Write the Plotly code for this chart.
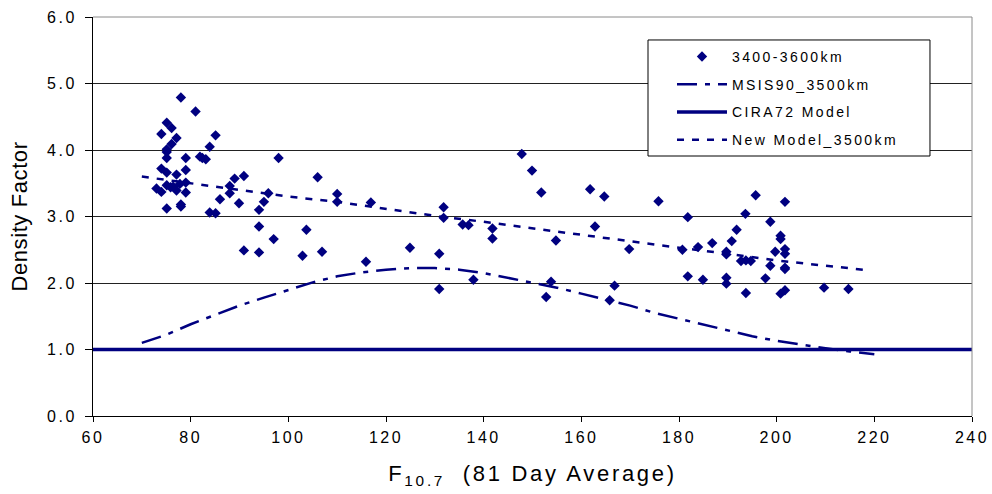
import plotly.graph_objects as go

# Observed density factors, 3400-3600 km band
flux_obs = [
    78.0, 81.0, 75.1, 76.1, 74.0, 77.1, 85.1, 76.1, 83.9, 75.1, 75.1, 75.1, 79.0, 81.9, 82.4, 83.1, 98.0,
    74.0, 75.1, 77.1, 79.0, 89.0, 90.9, 73.0, 74.0, 75.1, 75.9, 76.4, 77.1, 77.8, 79.0, 79.0, 88.0, 88.0,
    86.0, 89.9, 95.9, 95.0, 94.0, 75.1, 78.0, 78.0, 83.9, 85.1, 94.0, 97.0, 103.7, 90.9, 94.0, 102.9,
    106.0, 110.0, 110.0, 116.9, 131.8, 131.8, 135.7, 136.9, 106.9, 115.9, 124.9, 130.9, 137.9, 130.9,
    147.8, 149.9, 151.8, 161.8, 164.7, 175.8, 141.8, 141.8, 154.8, 162.8, 169.8, 153.8, 152.8, 166.8, 165.8,
    195.7, 201.7, 181.8, 193.6, 198.7, 191.8, 190.8, 200.8, 200.8, 180.7, 183.9, 186.8, 189.7, 189.7,
    199.7, 201.7, 201.7, 192.7, 193.7, 194.7, 198.7, 201.7, 201.7, 181.8, 184.9, 189.7, 189.7, 197.7,
    193.7, 200.8, 201.7, 209.7, 214.7,
]
density_obs = [
    4.79, 4.58, 4.41, 4.33, 4.24, 4.18, 4.22, 4.09, 4.05, 4.01, 3.97, 3.88, 3.88, 3.90, 3.88, 3.86, 3.88,
    3.72, 3.66, 3.63, 3.70, 3.57, 3.61, 3.42, 3.37, 3.47, 3.44, 3.45, 3.39, 3.49, 3.51, 3.36, 3.46, 3.35,
    3.26, 3.20, 3.35, 3.22, 3.10, 3.12, 3.18, 3.15, 3.06, 3.05, 2.85, 2.66, 2.80, 2.49, 2.46, 2.41,
    3.59, 3.34, 3.22, 3.21, 3.14, 2.98, 2.88, 2.87, 2.47, 2.32, 2.53, 2.44, 2.05, 1.91,
    3.94, 3.69, 3.36, 3.41, 3.30, 3.23, 2.82, 2.67, 2.64, 2.85, 2.51, 2.02, 1.79, 1.96, 1.74,
    3.32, 3.22, 2.99, 3.04, 2.92, 2.80, 2.63, 2.71, 2.66, 2.50, 2.54, 2.60, 2.47, 2.43,
    2.47, 2.51, 2.44, 2.33, 2.34, 2.33, 2.26, 2.23, 2.21, 2.10, 2.05, 2.08, 1.99, 2.07,
    1.85, 1.84, 1.89, 1.93, 1.91,
]

# MSIS90 model at 3500 km
msis_flux = [70, 75, 80, 85, 90, 95, 100, 105, 110, 115, 120, 125, 130, 135, 140, 145,
             150, 155, 160, 165, 170, 175, 180, 185, 190, 195, 200, 205, 210, 215, 220]
msis_density = [1.10, 1.22, 1.38, 1.52, 1.66, 1.78, 1.90, 2.01, 2.10, 2.16, 2.20, 2.225, 2.225, 2.20, 2.15, 2.08,
                2.01, 1.93, 1.84, 1.75, 1.66, 1.55, 1.46, 1.37, 1.28, 1.20, 1.13, 1.07, 1.02, 0.97, 0.93]

# CIRA72 reference level
cira_flux = [60, 240]
cira_density = [1.0, 1.0]

# New model at 3500 km
new_flux = [70, 80, 90, 100, 110, 120, 130, 140, 150, 160, 170, 180, 190, 200, 210, 219]
new_density = [3.60, 3.50, 3.40, 3.30, 3.22, 3.11, 3.01, 2.92, 2.82, 2.72, 2.63, 2.53, 2.44, 2.34, 2.26, 2.19]

x_ticks = [60, 80, 100, 120, 140, 160, 180, 200, 220, 240]
y_ticks = [0, 1, 2, 3, 4, 5, 6]

NAVY = "#000080"
FONT = "Liberation Sans, Arial, sans-serif"

fig = go.Figure()
fig.add_trace(go.Scatter(
    x=flux_obs, y=density_obs, mode="markers", name="3400-3600km", legendgroup="a",
    marker=dict(symbol="diamond", size=8, color=NAVY, line=dict(width=0)),
))
fig.add_trace(go.Scatter(
    x=msis_flux, y=msis_density, mode="lines", name="MSIS90_3500km", legendgroup="b",
    line=dict(color=NAVY, width=2.5, dash="20px,8px,5px,8px"),
))
fig.add_trace(go.Scatter(
    x=cira_flux, y=cira_density, mode="lines", name="CIRA72 Model", legendgroup="c",
    line=dict(color=NAVY, width=3.5),
))
fig.add_trace(go.Scatter(
    x=new_flux, y=new_density, mode="lines", name="New Model_3500km", legendgroup="d",
    line=dict(color=NAVY, width=2.5, dash="7px,8px"),
))

# Legend frame, plus grey top/right border of the plotting area
fig.add_shape(type="rect", xref="paper", yref="paper", x0=0.6314, x1=0.9522, y0=0.6516, y1=0.9424,
              fillcolor="white", line=dict(color="black", width=1), layer="above")
fig.add_shape(type="line", xref="paper", yref="paper", x0=0, x1=1, y0=1, y1=1,
              line=dict(color="#8a8a8a", width=1), layer="above")
fig.add_shape(type="line", xref="paper", yref="paper", x0=1, x1=1, y0=0, y1=1,
              line=dict(color="#8a8a8a", width=1), layer="above")

fig.update_layout(
    width=992, height=494,
    margin=dict(l=93, r=20, t=17, b=78, autoexpand=False),
    paper_bgcolor="white", plot_bgcolor="white",
    font=dict(family=FONT, size=14, color="black"),
    showlegend=True,
    legend=dict(
        x=0.6587, y=0.94, xanchor="left", yanchor="top",
        bgcolor="rgba(0,0,0,0)", borderwidth=0,
        font=dict(family=FONT, size=14, color="black"),
        traceorder="grouped", tracegroupgap=6.5, itemwidth=50,
    ),
    xaxis=dict(
        range=[60, 240], tickvals=x_ticks, ticktext=[str(v) for v in x_ticks],
        showgrid=False, zeroline=False, automargin=False,
        showline=True, linecolor="black", linewidth=1,
        ticks="outside", ticklen=5, tickcolor="black",
        tickfont=dict(size=16), ticklabelstandoff=2,
        title=dict(text="F<sub>10.7</sub>  (81 Day Average)", font=dict(size=22), standoff=20),
    ),
    yaxis=dict(
        range=[0, 6], tickvals=y_ticks, ticktext=[f"{v:.1f}" for v in y_ticks],
        showgrid=True, gridcolor="#222222", gridwidth=1, zeroline=False, automargin=False,
        showline=True, linecolor="black", linewidth=1,
        ticks="outside", ticklen=7, tickcolor="black",
        tickfont=dict(size=16), ticklabelstandoff=5,
        title=dict(text="Density Factor", font=dict(size=22), standoff=20),
    ),
)

# Wider letter spacing for the axis and legend lettering; the legend box is
# framed by the shape above, so its own clip region is dropped.
spacing_js = """
var gd = document.getElementById('{plot_id}');
function spread(sel, v) { gd.querySelectorAll(sel).forEach(function (t) { t.style.letterSpacing = v; }); }
spread('.xtick text', '2.5px');
spread('.ytick text', '2.5px');
spread('.legendtext', '2.4px');
spread('.xtitle', '2.7px');
spread('.ytitle', '0.6px');
gd.querySelectorAll('.legend .scrollbox, .legend').forEach(function (e) { e.removeAttribute('clip-path'); });
"""

fig.write_html("out.html", post_script=spacing_js)
